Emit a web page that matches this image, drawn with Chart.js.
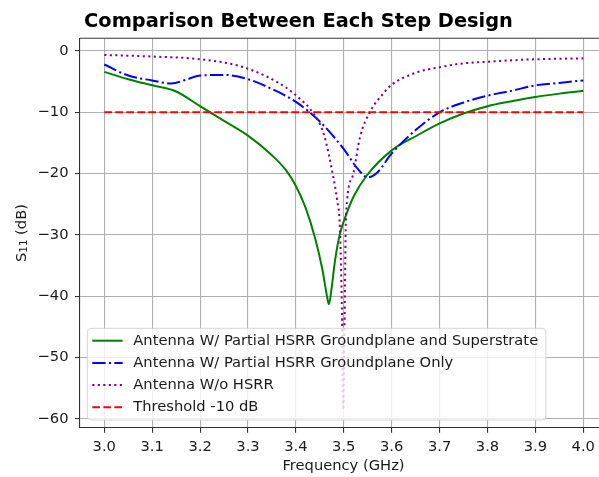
<!DOCTYPE html>
<html>
<head>
<meta charset="utf-8">
<title>Comparison Between Each Step Design</title>
<script src="https://cdn.jsdelivr.net/npm/chart.js@4.4.0/dist/chart.umd.min.js"></script>
<style>
    html, body { margin: 0; padding: 0; background: #fff; overflow: hidden; }
    /* a figura original está cortada à direita: o canvas passa da janela */
    #s11Chart { display: block; }
</style>
</head>
<body>
<canvas id="s11Chart" width="607" height="477"></canvas>
<script>
// Eixos: ticks
const freqTicks = [3.0, 3.1, 3.2, 3.3, 3.4, 3.5, 3.6, 3.7, 3.8, 3.9, 4.0];
const dbTicks = [0, -10, -20, -30, -40, -50, -60];

// Antena com HSRR parcial no plano de terra + superstrato (verde)
const superFreq = [3.0, 3.05, 3.1, 3.15, 3.2, 3.25, 3.3, 3.35, 3.38, 3.4, 3.42, 3.44, 3.455, 3.465, 3.469, 3.474, 3.482, 3.492, 3.506, 3.52, 3.548, 3.6, 3.65, 3.7, 3.75, 3.8, 3.85, 3.9, 3.95, 4.0];
const superDb = [-3.4, -4.6, -5.6, -6.6, -9.0, -11.4, -13.8, -17.0, -19.5, -22.0, -25.5, -30.5, -35.5, -40.0, -41.3, -39.0, -34.0, -29.8, -26.5, -23.8, -20.3, -16.2, -13.9, -11.8, -10.2, -9.0, -8.2, -7.5, -6.95, -6.5];

// Antena com HSRR parcial só no plano de terra (azul)
const groundFreq = [3.0, 3.05, 3.1, 3.14, 3.17, 3.2, 3.25, 3.3, 3.35, 3.4, 3.45, 3.5, 3.53, 3.55, 3.57, 3.6, 3.65, 3.7, 3.75, 3.8, 3.85, 3.9, 3.95, 4.0];
const groundDb = [-2.2, -4.0, -4.8, -5.3, -4.7, -4.0, -3.9, -4.6, -6.2, -8.3, -11.5, -16.0, -19.3, -20.6, -19.8, -16.7, -12.9, -10.0, -8.4, -7.3, -6.5, -5.6, -5.2, -4.8];

// Antena sem HSRR (roxo)
const plainFreq = [3.0, 3.1, 3.2, 3.28, 3.34, 3.38, 3.41, 3.43, 3.458, 3.478, 3.486, 3.492, 3.496, 3.499, 3.5015, 3.504, 3.507, 3.52, 3.534, 3.555, 3.583, 3.6, 3.652, 3.7, 3.74, 3.8, 3.9, 4.0];
const plainDb = [-0.65, -0.9, -1.35, -2.4, -4.2, -6.0, -7.9, -9.5, -13.5, -20.5, -24.3, -29.0, -42.0, -58.5, -45.0, -29.0, -24.3, -20.0, -14.0, -9.9, -6.9, -5.5, -3.5, -2.65, -2.1, -1.75, -1.35, -1.2];

// Limiar de -10 dB
const thresholdFreq = [3.0, 4.0];
const thresholdDb = [-10, -10];

const toPoints = (xs, ys) => xs.map((x, i) => ({ x: x, y: ys[i] }));
const minusSign = v => String(v).replace('-', '\u2212');
const baseFont = '"DejaVu Sans"';
const textSize = 14.7;
const chartTitle = 'Comparison Between Each Step Design';

// Título centrado na janela visível (599 px), não no canvas inteiro
const figTitle = {
    id: 'figTitle',
    afterDraw(chart) {
        const { ctx } = chart;
        ctx.save();
        ctx.font = 'bold 19.4px ' + baseFont;
        ctx.fillStyle = '#000';
        ctx.textAlign = 'center';
        ctx.textBaseline = 'alphabetic';
        ctx.fillText(chartTitle, 298.5, 26.5);
        ctx.restore();
    }
};

// Moldura superior do eixo (spine)
const topSpine = {
    id: 'topSpine',
    afterDraw(chart) {
        const { ctx, chartArea } = chart;
        ctx.save();
        ctx.strokeStyle = '#333';
        ctx.lineWidth = 1.1;
        ctx.beginPath();
        ctx.moveTo(chartArea.left, chartArea.top);
        ctx.lineTo(chartArea.right, chartArea.top);
        ctx.stroke();
        ctx.restore();
    }
};

// Título do eixo Y com subscrito (S11)
const yTitle = {
    id: 'yTitle',
    afterDraw(chart) {
        const { ctx, chartArea } = chart;
        const big = textSize + 'px ' + baseFont;
        const small = (textSize * 0.7).toFixed(1) + 'px ' + baseFont;
        const parts = [
            { t: 'S', font: big, dy: 0 },
            { t: '11', font: small, dy: 3 },
            { t: ' (dB)', font: big, dy: 0 }
        ];
        ctx.save();
        let total = 0;
        parts.forEach(p => { ctx.font = p.font; p.w = ctx.measureText(p.t).width; total += p.w; });
        ctx.translate(21.7, (chartArea.top + chartArea.bottom) / 2);
        ctx.rotate(-Math.PI / 2);
        ctx.fillStyle = '#1a1a1a';
        ctx.textAlign = 'left';
        ctx.textBaseline = 'middle';
        let x = -total / 2;
        parts.forEach(p => {
            ctx.font = p.font;
            ctx.fillText(p.t, x, p.dy);
            x += p.w;
        });
        ctx.restore();
    }
};

// Legenda no estilo matplotlib, dentro da área do gráfico
const mplLegend = {
    id: 'mplLegend',
    afterDatasetsDraw(chart) {
        const { ctx, chartArea } = chart;
        const items = chart.data.datasets;
        const rowH = 22.2;
        ctx.save();
        ctx.font = textSize + 'px ' + baseFont;
        const textW = Math.max(...items.map(d => ctx.measureText(d.label).width));
        const left = chartArea.left + 7.3;
        const width = 46 + textW + 7.7;
        const height = items.length * rowH + 2.9;
        const top = chartArea.bottom - 7.7 - height;

        ctx.globalAlpha = 0.8;
        ctx.beginPath();
        ctx.roundRect(left, top, width, height, 4);
        ctx.fillStyle = '#fff';
        ctx.fill();
        ctx.lineWidth = 1;
        ctx.strokeStyle = '#ccc';
        ctx.stroke();
        ctx.globalAlpha = 1;

        items.forEach((d, i) => {
            const y = top + 12.4 + i * rowH;
            ctx.beginPath();
            ctx.setLineDash(d.borderDash || []);
            ctx.lineWidth = d.borderWidth;
            ctx.strokeStyle = d.borderColor;
            ctx.moveTo(left + 5, y);
            ctx.lineTo(left + 35.4, y);
            ctx.stroke();
            ctx.setLineDash([]);
            ctx.fillStyle = '#1a1a1a';
            ctx.textAlign = 'left';
            ctx.textBaseline = 'middle';
            ctx.fillText(d.label, left + 46, y);
        });
        ctx.restore();
    }
};

const ctx = document.getElementById('s11Chart').getContext('2d');
new Chart(ctx, {
    type: 'line',
    data: {
        datasets: [
            {
                label: 'Antenna W/ Partial HSRR Groundplane and Superstrate',
                data: toPoints(superFreq, superDb),
                borderColor: '#008000',
                borderWidth: 2,
                borderDash: [],
                order: 4
            },
            {
                label: 'Antenna W/ Partial HSRR Groundplane Only',
                data: toPoints(groundFreq, groundDb),
                borderColor: '#0000ff',
                borderWidth: 2,
                borderDash: [13.3, 3.3, 2.1, 3.3],
                order: 3
            },
            {
                label: 'Antenna W/o HSRR',
                data: toPoints(plainFreq, plainDb),
                borderColor: '#800080',
                borderWidth: 2,
                borderDash: [2.1, 3.4],
                order: 2
            },
            {
                label: 'Threshold -10 dB',
                data: toPoints(thresholdFreq, thresholdDb),
                borderColor: '#ff0000',
                borderWidth: 2,
                borderDash: [7.7, 3.3],
                order: 1
            }
        ]
    },
    options: {
        responsive: false,
        devicePixelRatio: 1,
        animation: false,
        layout: { padding: { left: 0, top: 38.3, bottom: 0, right: 0 } },
        elements: {
            point: { radius: 0, hoverRadius: 0 },
            line: { cubicInterpolationMode: 'monotone', fill: false }
        },
        plugins: {
            legend: { display: false },
            tooltip: { enabled: false },
            title: { display: false }
        },
        scales: {
            x: {
                type: 'linear',
                min: 2.9493,
                max: 4.0495,
                afterBuildTicks: scale => { scale.ticks = freqTicks.map(v => ({ value: v })); },
                afterFit: scale => {
                    scale.height = 49.3;
                    scale.paddingLeft = 0;
                    scale.paddingRight = 0;
                },
                ticks: {
                    autoSkip: false,
                    maxRotation: 0,
                    padding: 5.5,
                    color: '#1a1a1a',
                    font: { family: 'DejaVu Sans', size: textSize },
                    callback: v => v.toFixed(1)
                },
                grid: {
                    color: '#b0b0b0',
                    lineWidth: 1.1,
                    tickColor: '#333',
                    tickLength: 5,
                    tickWidth: 1.1
                },
                border: { display: true, color: '#333', width: 1.1 },
                title: {
                    display: true,
                    text: 'Frequency (GHz)',
                    color: '#1a1a1a',
                    font: { family: 'DejaVu Sans', size: textSize },
                    padding: { top: 0, bottom: 2 }
                }
            },
            y: {
                type: 'linear',
                min: -61.42,
                max: 2.07,
                afterBuildTicks: scale => { scale.ticks = dbTicks.map(v => ({ value: v })); },
                afterFit: scale => {
                    scale.width = 80;
                    scale.paddingTop = 0;
                    scale.paddingBottom = 0;
                },
                ticks: {
                    padding: 6.5,
                    color: '#1a1a1a',
                    font: { family: 'DejaVu Sans', size: textSize },
                    callback: v => minusSign(v)
                },
                grid: {
                    color: '#b0b0b0',
                    lineWidth: 1.1,
                    tickColor: '#333',
                    tickLength: 5,
                    tickWidth: 1.1
                },
                border: { display: true, color: '#333', width: 1.1 },
                title: { display: false }
            }
        }
    },
    plugins: [mplLegend, topSpine, yTitle, figTitle]
});
</script>
</body>
</html>
